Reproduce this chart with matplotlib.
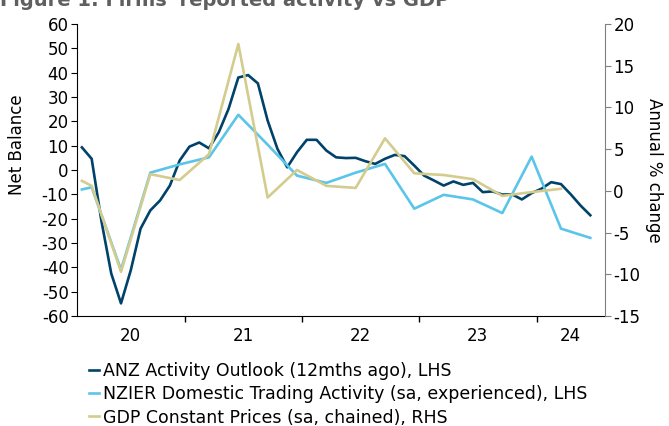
import numpy as np
import pandas as pd
import matplotlib
matplotlib.use('Agg')
import matplotlib.pyplot as plt

plt.rcParams['axes.unicode_minus'] = False

# ANZ activity outlook (12mths ago), monthly, LHS
anz_dates = list(pd.period_range('2020-02', '2024-06', freq='M'))
anz = [9.3, 4.6, -21, -42.5, -54.8, -41.2, -24.1, -16.6, -12.5, -6.4,
       3.9, 9.6, 11.3, 8.9, 15.5, 25.1, 38.0, 39.0, 35.6, 20.3,
       8.7, 1.1, 7.3, 12.4, 12.4, 8.0, 5.2, 4.9, 5.0, 3.6,
       2.5, 4.6, 6.2, 5.7, 1.8, -2.3, -4.3, -6.4, -4.7, -6.1,
       -5.3, -9.1, -8.8, -10.1, -10.0, -12.1, -9.5, -7.7, -5.0, -5.8,
       -10.0, -14.6, -18.6]

# NZIER domestic trading activity, quarterly, LHS
nzier_dates = [pd.Period('2020-02', freq='M')] + \
    list(pd.period_range('2020-03', '2024-06', freq='M')[::3])
nzier = [-8.0, -7.1, -41, -1.1, 2.3, 5.2, 22.7, 10.4, -2.3, -5.3,
         -1.1, 2.5, -15.9, -10.2, -12.1, -17.7, 5.5, -24.1, -27.9]

# GDP constant prices annual % change, quarterly, RHS
gdp_dates = [pd.Period('2020-02', freq='M')] + \
    list(pd.period_range('2020-03', '2024-03', freq='M')[::3])
gdp = [1.2, 0.6, -9.7, 2.0, 1.3, 4.4, 17.6, -0.8, 2.5, 0.6,
       0.35, 6.3, 2.1, 1.9, 1.4, -0.6, -0.15, 0.25]

year_labels = ['20', '21', '22', '23', '24']


def to_x(periods):
    # centre of each month, in decimal years
    return np.array([p.year + (p.month - 0.5) / 12 for p in periods])


navy = '#00426A'
sky = '#5BC5E9'
khaki = '#D4CC8E'
fs = 12

fig = plt.figure(figsize=(6.69, 4.26), dpi=100)
ax = fig.add_axes([0.1151, 0.2582, 0.7892, 0.6855])
ax2 = ax.twinx()

l1, = ax.plot(to_x(anz_dates), anz, color=navy, lw=1.9,
              label='ANZ Activity Outlook (12mths ago), LHS')
l2, = ax.plot(to_x(nzier_dates), nzier, color=sky, lw=1.9,
              label='NZIER Domestic Trading Activity (sa, experienced), LHS')
l3, = ax2.plot(to_x(gdp_dates), gdp, color=khaki, lw=1.9,
               label='GDP Constant Prices (sa, chained), RHS')

x0 = 2020 + 1 / 12
x1 = 2024 + 7 / 12
ax.set_xlim(x0, x1)
ax.set_ylim(-60, 60)
ax.set_yticks(np.arange(-60, 61, 10))
ax2.set_ylim(-15, 20)
ax2.set_yticks(np.arange(-15, 21, 5))

# year boundaries as ticks, labels centred on each year segment
ax.set_xticks([2021, 2022, 2023, 2024])
ax.set_xticklabels([])
edges = [x0, 2021, 2022, 2023, 2024, x1]
mids = [(a + b) / 2 for a, b in zip(edges[:-1], edges[1:])]
ax.set_xticks(mids, minor=True)
ax.set_xticklabels(year_labels, minor=True)
ax.tick_params(axis='x', which='minor', length=0, labelsize=fs, pad=8)
ax.tick_params(axis='x', which='major', length=4, width=1)

ax.tick_params(axis='y', labelsize=fs, length=4, pad=2)
ax2.tick_params(axis='y', labelsize=fs, length=4, pad=2, color='#808080')

for a in (ax, ax2):
    a.spines['top'].set_visible(False)
ax.spines['right'].set_visible(False)
ax2.spines['left'].set_visible(False)
ax2.spines['bottom'].set_visible(False)
ax2.spines['right'].set_color('#808080')

ax.set_ylabel('Net Balance', fontsize=fs)
ax.yaxis.set_label_coords(-0.096, 0.586)
ax2.set_ylabel('Annual % change', fontsize=fs, rotation=-90, labelpad=16)

fig.legend(handles=[l1, l2, l3], loc='upper left',
           bbox_to_anchor=(0.133, 0.15), frameon=False, fontsize=12.5,
           handlelength=0.55, handletextpad=0.25, labelspacing=0.3,
           borderaxespad=0, borderpad=0)

fig.text(0.0, 0.985, "Figure 1: Firms' reported activity vs GDP",
         fontsize=14, fontweight='bold', color='#5f5f5f', va='baseline')

fig.savefig('out.png', dpi=100)
